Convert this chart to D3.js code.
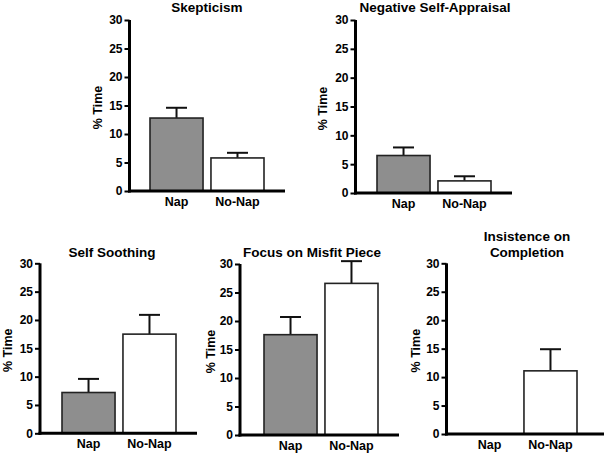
<!DOCTYPE html>
<html>
<head>
<meta charset="utf-8">
<script src="https://cdn.jsdelivr.net/npm/d3@7/dist/d3.min.js"></script>
<style>
  html, body { margin: 0; padding: 0; background: #fff; }
  svg { display: block; font-family: "Liberation Sans", Arial, sans-serif; }
</style>
</head>
<body>
<svg id="chart" width="607" height="453"></svg>
<script>
// ---- data ----
const categories = ["Nap", "No-Nap"];
const panelTitles = [["Skepticism"], ["Negative Self-Appraisal"], ["Self Soothing"], ["Focus on Misfit Piece"], ["Insistence on", "Completion"]];
const napMeans = [12.8, 6.5, 7.2, 17.6, 0];
const napSEM = [1.8, 1.4, 2.4, 3.1, 0];
const noNapMeans = [5.8, 2.1, 17.5, 26.6, 11.1];
const noNapSEM = [0.9, 0.8, 3.4, 3.9, 3.8];
const yTicks = [0, 5, 10, 15, 20, 25, 30];
const yLabel = "% Time";

// ---- layout (positions only) ----
const layout = [
  { axisX: 129.5, axisEnd: 285, top: 20, bottom: 191, barL: 150, barR: 264, titleX: 207, titleY: 12, labelX: 98 },
  { axisX: 355.5, axisEnd: 512, top: 20, bottom: 193, barL: 377, barR: 491, titleX: 435, titleY: 12, labelX: 323 },
  { axisX: 40, axisEnd: 197, top: 263.3, bottom: 433.3, barL: 62, barR: 176, titleX: 112, titleY: 257, labelX: 7.5 },
  { axisX: 240, axisEnd: 399, top: 264, bottom: 435, barL: 264, barR: 378, titleX: 312, titleY: 257, labelX: 211 },
  { axisX: 446.5, axisEnd: 604, top: 263.3, bottom: 434, barL: 463, barR: 577, titleX: 527, titleY: 240.5, labelX: 416 }
];
const fills = { "Nap": "#8e8e8e", "No-Nap": "#ffffff" };

const svg = d3.select("#chart");

layout.forEach((L, i) => {
  const g = svg.append("g");
  const y = d3.scaleLinear().domain([0, 30]).range([L.bottom, L.top]);
  const x = d3.scaleBand().domain(categories).range([L.barL, L.barR]).paddingInner(0.13).paddingOuter(0);

  const rows = [
    { cat: "Nap", mean: napMeans[i], sem: napSEM[i] },
    { cat: "No-Nap", mean: noNapMeans[i], sem: noNapSEM[i] }
  ];

  // error bars (upper only)
  rows.filter(d => d.mean > 0).forEach(d => {
    const cx = x(d.cat) + x.bandwidth() / 2;
    g.append("line").attr("x1", cx).attr("x2", cx)
      .attr("y1", y(d.mean)).attr("y2", y(d.mean + d.sem))
      .attr("stroke", "#111").attr("stroke-width", 2);
    g.append("line").attr("x1", cx - 10.5).attr("x2", cx + 10.5)
      .attr("y1", y(d.mean + d.sem)).attr("y2", y(d.mean + d.sem))
      .attr("stroke", "#111").attr("stroke-width", 2);
  });

  // bars
  g.selectAll("rect.bar").data(rows.filter(d => d.mean > 0)).join("rect")
    .attr("class", "bar")
    .attr("x", d => x(d.cat))
    .attr("width", x.bandwidth())
    .attr("y", d => y(d.mean))
    .attr("height", d => y(0) - y(d.mean))
    .attr("fill", d => fills[d.cat])
    .attr("stroke", "#222")
    .attr("stroke-width", 1.6);

  // y axis
  const ya = g.append("g").attr("transform", `translate(${L.axisX},0)`)
    .call(d3.axisLeft(y).tickValues(yTicks).tickSize(5).tickSizeOuter(0).tickPadding(2));
  ya.select(".domain").attr("stroke", "#000").attr("stroke-width", 3)
    .attr("d", `M0,${y(30)}V${y(0) + 1.5}`);
  ya.selectAll(".tick line").attr("stroke", "#000").attr("stroke-width", 2);
  ya.selectAll(".tick text").attr("font-size", 12).attr("font-weight", "bold").attr("fill", "#000")
    .attr("font-family", "Liberation Sans, Arial, sans-serif");

  // x axis
  const xa = g.append("g").attr("transform", `translate(0,${y(0)})`)
    .call(d3.axisBottom(x).tickSize(0).tickPadding(6));
  xa.select(".domain").attr("stroke", "#000").attr("stroke-width", 3)
    .attr("d", `M${L.axisX - 1.5},0H${L.axisEnd}`);
  xa.selectAll(".tick text").attr("font-size", 12.5).attr("font-weight", "bold").attr("fill", "#000")
    .attr("font-family", "Liberation Sans, Arial, sans-serif");

  // y label
  g.append("text")
    .attr("transform", `translate(${L.labelX},${(L.top + L.bottom) / 2 + 2}) rotate(-90)`)
    .attr("text-anchor", "middle").attr("dy", "0.35em")
    .attr("font-size", 12.5).attr("font-weight", "bold").attr("fill", "#000")
    .text(yLabel);

  // title
  const lines = panelTitles[i];
  lines.forEach((t, k) => {
    g.append("text")
      .attr("x", L.titleX).attr("y", L.titleY + k * 16)
      .attr("text-anchor", "middle")
      .attr("font-size", 13.5).attr("font-weight", "bold").attr("fill", "#000")
      .text(t);
  });
});
</script>
</body>
</html>
